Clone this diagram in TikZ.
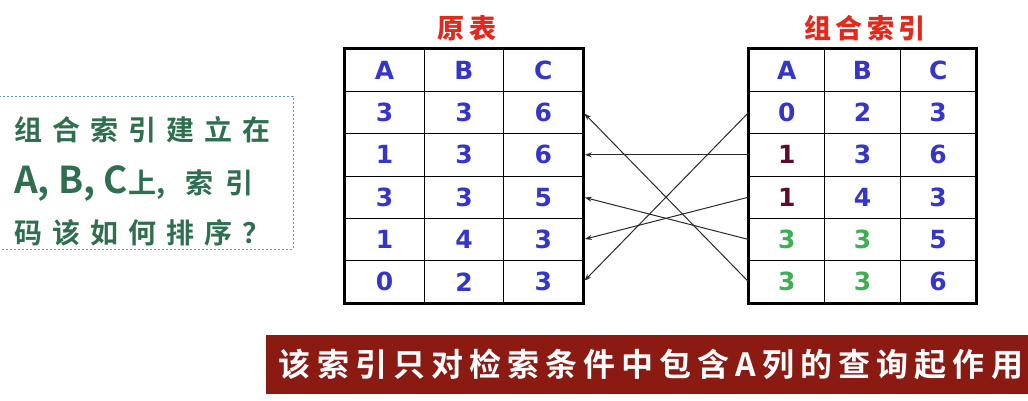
\documentclass[tikz,border=0pt]{standalone}
\usepackage{fontspec}
\setmainfont{DejaVu Sans}
\newfontfamily\numfont{DejaVu Sans}
\newfontfamily\cjkleft[LetterSpace=36,BoldFont={Noto Sans CJK SC Bold}]{Noto Sans CJK SC}
\newfontfamily\cjktitle[LetterSpace=15,BoldFont={Noto Sans CJK SC Black}]{Noto Sans CJK SC}
\newfontfamily\cjkbanner[LetterSpace=19,BoldFont={Noto Sans CJK SC Bold}]{Noto Sans CJK SC}
\newfontfamily\cjkplain[BoldFont={Noto Sans CJK SC Bold}]{Noto Sans CJK SC}
\usetikzlibrary{arrows.meta}
\definecolor{numblue}{HTML}{3535C8}
\definecolor{numgreen}{HTML}{3FAE55}
\definecolor{nummaroon}{HTML}{5C0C2C}
\definecolor{titlered}{HTML}{E3281C}
\definecolor{bannerred}{HTML}{8A1A12}
\definecolor{textgreen}{HTML}{2F6F4F}
\definecolor{boxblue}{HTML}{5B9BD5}
\definecolor{arrgray}{HTML}{2A2A2A}
\begin{document}
\begin{tikzpicture}[x=1pt,y=-1pt,
  lcell/.style={draw=black,line width=0.8pt,minimum width=79.33pt,minimum height=42.33pt,inner sep=0pt,font=\numfont\bfseries\fontsize{25}{25}\selectfont,text=numblue},
  rcell/.style={draw=black,line width=0.8pt,minimum width=75.67pt,minimum height=42.33pt,inner sep=0pt,font=\numfont\bfseries\fontsize{25}{25}\selectfont},
  frame/.style={draw=black,line width=2.5pt},
  arr/.style={draw=arrgray,line width=1pt,-{Stealth[length=7pt,width=5pt]},shorten >=1.5pt},
  titletext/.style={text=titlered,font=\cjktitle\bfseries\fontsize{27}{27}\selectfont,inner sep=0pt},
  lefttext/.style={text=textgreen,font=\cjkleft\bfseries\fontsize{28}{28}\selectfont,inner sep=0pt,anchor=west}
]
\useasboundingbox (0,0) rectangle (1028,400);
\fill[white] (0,0) rectangle (1028,400);

% left table
\foreach \r/\a/\b/\c in {0/A/B/C,1/3/3/6,2/1/3/6,3/3/3/5,4/1/4/3,5/0/2/3}{
  \node[lcell] (L-\r-1) at ({345+0.5*79.33},{49+(\r+0.5)*42.33}) {\a};
  \node[lcell] (L-\r-2) at ({345+1.5*79.33},{49+(\r+0.5)*42.33}) {\b};
  \node[lcell] (L-\r-3) at ({345+2.5*79.33},{49+(\r+0.5)*42.33}) {\c};
}
\draw[frame] (L-0-1.north west) rectangle (L-5-3.south east);

% right table
\foreach \r/\a/\ca/\b/\cb/\c in {0/A/numblue/B/numblue/C,1/0/numblue/2/numblue/3,2/1/nummaroon/3/numblue/6,3/1/nummaroon/4/numblue/3,4/3/numgreen/3/numgreen/5,5/3/numgreen/3/numgreen/6}{
  \node[rcell,text=\ca] (R-\r-1) at ({749+0.5*75.67},{49+(\r+0.5)*42.33}) {\a};
  \node[rcell,text=\cb] (R-\r-2) at ({749+1.5*75.67},{49+(\r+0.5)*42.33}) {\b};
  \node[rcell,text=numblue] (R-\r-3) at ({749+2.5*75.67},{49+(\r+0.5)*42.33}) {\c};
}
\draw[frame] (R-0-1.north west) rectangle (R-5-3.south east);

% titles
\node[titletext] (t1) at (467,28) {原表};
\node[titletext] (t2) at (865,28) {组合索引};

% arrows
\draw[arr] (R-1-1.west) -- (L-5-3.east);
\draw[arr] (R-2-1.west) -- (L-2-3.east);
\draw[arr] (R-3-1.west) -- (L-4-3.east);
\draw[arr] (R-4-1.west) -- (L-3-3.east);
\draw[arr] (R-5-1.west) -- (L-1-3.east);

% left question box
\draw[boxblue,line width=0.9pt,dash pattern=on 2pt off 2pt] (-5,96) rectangle (293,249);
\node[lefttext] (q1) at (14,130) {组合索引建立在};
\node[lefttext] (q2) at (14,184) {{\cjkplain\bfseries\fontsize{37}{37}\selectfont A, B, C}{\cjkplain\bfseries\fontsize{28}{28}\selectfont 上,\hspace{20pt}索\hspace{12pt}引}};
\node[lefttext] (q3) at (14,233) {码该如何排序？};

% banner
\fill[bannerred] (266,335) rectangle (1028,394);
\node[text=white,font=\cjkbanner\bfseries\fontsize{32}{32}\selectfont,inner sep=0pt] (b) at (651,364) {该索引只对检索条件中包含A列的查询起作用};
\end{tikzpicture}
\end{document}
